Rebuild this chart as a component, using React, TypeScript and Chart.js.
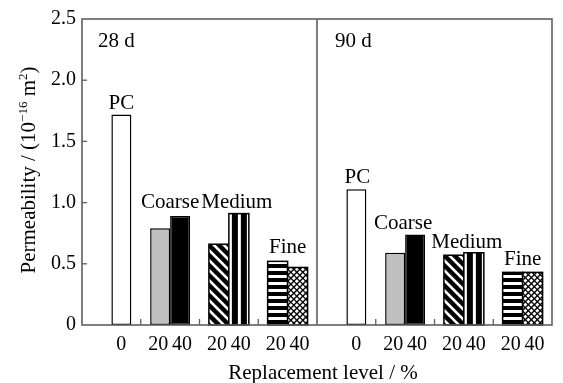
import React, { useEffect, useRef } from "react";
import { Chart, registerables } from "chart.js";
Chart.register(...registerables);

// ---- data ----
const categories = ["28d PC", "28d Coarse", "28d Medium", "28d Fine", "90d PC", "90d Coarse", "90d Medium", "90d Fine"];
const groupNames = ["PC", "Coarse", "Medium", "Fine", "PC", "Coarse", "Medium", "Fine"];
const ageLabels = ["28 d", "90 d"];
const permeability20 = [null, 0.79, 0.66, 0.52, null, 0.59, 0.57, 0.43];
const permeability40 = [1.72, 0.89, 0.91, 0.47, 1.11, 0.74, 0.59, 0.43];
const levelLabels20 = ["", "20", "20", "20", "", "20", "20", "20"];
const levelLabels40 = ["0", "40", "40", "40", "0", "40", "40", "40"];
const yMin = 0;
const yMax = 2.5;
const yStep = 0.5;

// ---- styles ----
const fill20 = ["", "gray", "diag", "hstripe", "", "gray", "diag", "hstripe"];
const fill40 = ["white", "black", "vstripe", "cross", "white", "black", "vstripe", "cross"];
const labelNudge = [0, 0, 8, 0, 1, -2, 3, 0];
const labelGap = [5, 8, 6, 8, 6, 5, 5, 7];
const FONT = "'Liberation Serif', 'Times New Roman', Times, serif";
const FRAME = "#5f5f5f";
const WORD = 21;

function drawPattern(ctx: CanvasRenderingContext2D, kind: string, l: number, t: number, w: number, h: number) {
  ctx.save();
  ctx.beginPath();
  ctx.rect(l, t, w, h);
  ctx.clip();
  ctx.fillStyle = "#fff";
  ctx.fillRect(l, t, w, h);
  ctx.fillStyle = "#000";
  ctx.strokeStyle = "#000";
  if (kind === "diag") {
    ctx.lineWidth = 4.5;
    const b = t + h;
    for (let k = -h - 20; k < w + 20; k += 10) {
      ctx.beginPath();
      ctx.moveTo(l + k, b - h - 20);
      ctx.lineTo(l + k + h + 40, b + 20);
      ctx.stroke();
    }
  } else if (kind === "vstripe") {
    for (let x = l + 3; x < l + w; x += 9) {
      ctx.fillRect(x, t, 6, h);
    }
  } else if (kind === "hstripe") {
    const b = t + h;
    for (let y = b - 1; y > t - 8; y -= 7) {
      ctx.fillRect(l, y - 4, w, 4);
    }
  } else if (kind === "cross") {
    ctx.lineWidth = 1.4;
    for (let k = -h - 10; k < w + 10; k += 6) {
      ctx.beginPath();
      ctx.moveTo(l + k, t + h);
      ctx.lineTo(l + k + h, t);
      ctx.stroke();
      ctx.beginPath();
      ctx.moveTo(l + k, t);
      ctx.lineTo(l + k + h, t + h);
      ctx.stroke();
    }
  }
  ctx.restore();
}

const decorPlugin = {
  id: "decor",
  afterDatasetsDraw(chart: any) {
    const ctx: CanvasRenderingContext2D = chart.ctx;
    const area = chart.chartArea;
    const xs = chart.scales.x;
    const ys = chart.scales.y;
    const metas = [chart.getDatasetMeta(0), chart.getDatasetMeta(1)];
    const fills = [fill20, fill40];
    const levels = [levelLabels20, levelLabels40];
    const tops: number[] = categories.map(() => Infinity);
    const lefts: number[] = categories.map(() => Infinity);
    const rights: number[] = categories.map(() => -Infinity);

    metas.forEach((meta: any, di: number) => {
      meta.data.forEach((el: any, i: number) => {
        const raw = chart.data.datasets[di].data[i];
        if (raw === null || raw === undefined) return;
        const p = el.getProps(["x", "y", "base", "width"], true);
        const l = p.x - p.width / 2;
        const t = p.y;
        const h = p.base - p.y;
        const kind = fills[di][i];
        if (kind === "diag" || kind === "vstripe" || kind === "hstripe" || kind === "cross") {
          drawPattern(ctx, kind, l, t, p.width, h);
          ctx.save();
          ctx.strokeStyle = "#000";
          ctx.lineWidth = 1.5;
          ctx.strokeRect(l, t, p.width, h);
          ctx.restore();
        }
        tops[i] = Math.min(tops[i], t);
        lefts[i] = Math.min(lefts[i], l);
        rights[i] = Math.max(rights[i], l + p.width);
        ctx.save();
        ctx.font = `20px ${FONT}`;
        ctx.fillStyle = "#000";
        ctx.textAlign = "center";
        ctx.textBaseline = "alphabetic";
        const lab = levels[di][i];
        const dx = lab === "20" ? -2 : lab === "40" ? 2 : 0;
        ctx.fillText(lab, p.x + dx, area.bottom + 25);
        ctx.restore();
      });
    });

    ctx.save();
    ctx.font = `${WORD}px ${FONT}`;
    ctx.fillStyle = "#000";
    ctx.textAlign = "center";
    ctx.textBaseline = "alphabetic";
    groupNames.forEach((name, i) => {
      const cx = (lefts[i] + rights[i]) / 2 + labelNudge[i];
      ctx.fillText(name, cx, tops[i] - labelGap[i]);
    });
    ctx.restore();

    const divX = (xs.getPixelForValue(3) + xs.getPixelForValue(4)) / 2;
    ctx.save();
    ctx.strokeStyle = FRAME;
    ctx.lineWidth = 1.6;
    ctx.strokeRect(area.left, area.top, area.right - area.left, area.bottom - area.top);
    ctx.beginPath();
    ctx.moveTo(divX, area.top);
    ctx.lineTo(divX, area.bottom);
    ctx.stroke();
    ctx.lineWidth = 1.3;
    for (let v = yMin + yStep; v < yMax - 1e-9; v += yStep) {
      const y = ys.getPixelForValue(v);
      ctx.beginPath();
      ctx.moveTo(area.left, y);
      ctx.lineTo(area.left + 5, y);
      ctx.stroke();
    }
    for (let i = 0; i < categories.length - 1; i++) {
      if (i === 3) continue;
      const x = (xs.getPixelForValue(i) + xs.getPixelForValue(i + 1)) / 2;
      ctx.beginPath();
      ctx.moveTo(x, area.bottom);
      ctx.lineTo(x, area.bottom - 6);
      ctx.stroke();
    }
    ctx.restore();

    ctx.save();
    ctx.font = `${WORD}px ${FONT}`;
    ctx.fillStyle = "#000";
    ctx.textAlign = "left";
    ctx.textBaseline = "alphabetic";
    ctx.fillText(ageLabels[0], area.left + 16, area.top + 28);
    ctx.fillText(ageLabels[1], divX + 18, area.top + 28);
    ctx.restore();

    ctx.save();
    ctx.font = `${WORD}px ${FONT}`;
    ctx.fillStyle = "#000";
    ctx.textAlign = "center";
    ctx.textBaseline = "alphabetic";
    ctx.fillText("Replacement level / %", (area.left + area.right) / 2 + 6, area.bottom + 54);
    ctx.restore();

    const parts: [string, boolean][] = [
      ["Permeability / (10", false],
      ["\u221216", true],
      [" m", false],
      ["2", true],
      [")", false],
    ];
    ctx.save();
    ctx.fillStyle = "#000";
    ctx.textBaseline = "alphabetic";
    ctx.textAlign = "left";
    let total = 0;
    const widths = parts.map(([s, sup]) => {
      ctx.font = sup ? `13px ${FONT}` : `${WORD}px ${FONT}`;
      const w = ctx.measureText(s).width;
      total += w;
      return w;
    });
    ctx.translate(35, (area.top + area.bottom) / 2 - 2);
    ctx.rotate(-Math.PI / 2);
    let x = -total / 2;
    parts.forEach(([s, sup], i) => {
      ctx.font = sup ? `13px ${FONT}` : `${WORD}px ${FONT}`;
      ctx.fillText(s, x, sup ? -8 : 0);
      x += widths[i];
    });
    ctx.restore();
  },
};

function solidColor(kind: string) {
  if (kind === "gray") return "#c0c0c0";
  if (kind === "black") return "#000000";
  return "#ffffff";
}

export default function App() {
  const ref = useRef<HTMLCanvasElement | null>(null);
  useEffect(() => {
    if (!ref.current) return;
    const chart = new Chart(ref.current, {
      type: "bar",
      data: {
        labels: categories,
        datasets: [
          {
            label: "20 %",
            data: permeability20 as any,
            backgroundColor: fill20.map(solidColor),
            borderColor: "#000",
            borderWidth: 1.5,
            borderSkipped: false,
            categoryPercentage: 0.68,
            barPercentage: 1,
          },
          {
            label: "40 %",
            data: permeability40 as any,
            backgroundColor: fill40.map(solidColor),
            borderColor: "#000",
            borderWidth: 1.5,
            borderSkipped: false,
            categoryPercentage: 0.68,
            barPercentage: 1,
          },
        ],
      },
      options: {
        responsive: false,
        animation: false,
        layout: { padding: { left: 0, right: 11, top: 19, bottom: 0 } },
        plugins: { legend: { display: false }, tooltip: { enabled: false } },
        scales: {
          x: {
            type: "category",
            offset: true,
            grid: { display: false, drawTicks: false },
            border: { display: false },
            ticks: { display: false },
            afterFit(scale: any) {
              scale.height = 58;
            },
          },
          y: {
            min: yMin,
            max: yMax,
            grid: { display: false, drawTicks: false },
            border: { display: false },
            ticks: {
              stepSize: yStep,
              padding: 6,
              color: "#000",
              font: { family: FONT, size: 20 },
              callback: (v: any) => (Number(v) === 0 ? "0" : Number(v).toFixed(1)),
            },
            afterFit(scale: any) {
              scale.width = 82;
            },
          },
        },
      },
      plugins: [decorPlugin],
    });
    return () => chart.destroy();
  }, []);
  return (
    <div style={{ position: "fixed", left: 0, top: 0, width: 563, height: 383, background: "#fff" }}>
      <canvas ref={ref} width={563} height={383} style={{ width: 563, height: 383, display: "block" }} />
    </div>
  );
}
